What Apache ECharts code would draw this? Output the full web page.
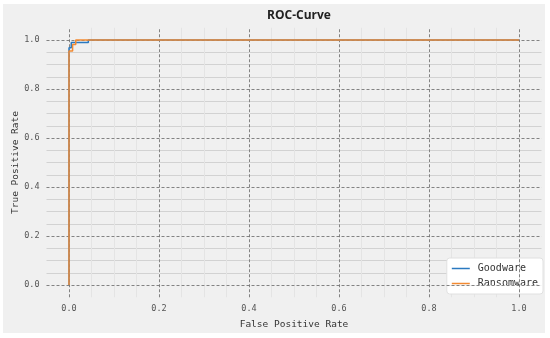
<!DOCTYPE html>
<html><head><meta charset="utf-8">
<script src="https://cdn.jsdelivr.net/npm/echarts@6/dist/echarts.min.js"></script>
<style>
html,body{margin:0;padding:0;background:#fff;}
#bg{position:absolute;left:3px;top:4px;width:542px;height:329px;background:#f0f0f0;}
#chart{position:absolute;left:0;top:0;width:550px;height:338px;}
</style></head>
<body>
<div id="bg"></div>
<div id="chart"></div>
<script>
const goodwareFPR = [0, 0, 0.005, 0.005, 0.043, 0.043, 1];
const goodwareTPR = [0, 0.968, 0.968, 0.99, 0.99, 1.0, 1.0];
const ransomFPR = [0, 0, 0.008, 0.008, 0.015, 0.015, 1];
const ransomTPR = [0, 0.955, 0.955, 0.982, 0.982, 1.0, 1.0];
const majorTicks = [0, 0.2, 0.4, 0.6, 0.8, 1.0];

const zip = (a, b) => a.map((v, i) => [v, b[i]]);
const majorLines = [];
majorTicks.forEach(v => { majorLines.push({xAxis: v}); majorLines.push({yAxis: v}); });

const mono = 'DejaVu Sans Mono';
const labelFmt = v => {
  const r = Math.round(v * 100) / 100;
  return majorTicks.some(t => Math.abs(t - r) < 1e-6) ? r.toFixed(1) : '';
};
function makeAxis(extra, minorColor) {
  return Object.assign({
    type: 'value', min: -0.05, max: 1.05, interval: 0.05,
    axisLine: {show: false}, axisTick: {show: false},
    splitLine: {show: true, showMinLine: false, showMaxLine: false,
      lineStyle: {color: minorColor, width: 1}},
    nameLocation: 'middle', nameMoveOverlap: false,
    nameTextStyle: {color: '#333', fontFamily: mono, fontSize: 9.5}
  }, extra);
}

const chart = echarts.init(document.getElementById('chart'));
chart.setOption({
  backgroundColor: 'transparent',
  animation: false,
  title: {
    text: 'ROC-Curve', left: 294, top: 5, textAlign: 'center',
    textStyle: {fontFamily: 'Open Sans', fontWeight: 'bold', fontSize: 12, color: '#222'}
  },
  grid: {left: 46.5, right: 8.5, top: 27.75, bottom: 40.75, containLabel: false, outerBoundsMode: 'none'},
  xAxis: makeAxis({
    name: 'False Positive Rate', nameGap: 22,
    axisLabel: {color: '#555', fontFamily: mono, fontSize: 8.5, margin: 7, formatter: labelFmt}
  }, '#e4e4e4'),
  yAxis: makeAxis({
    name: 'True Positive Rate', nameGap: 26,
    axisLabel: {color: '#555', fontFamily: mono, fontSize: 8.5, margin: 7, formatter: labelFmt}
  }, '#d2d2d2'),
  legend: {
    orient: 'vertical', right: 7, bottom: 44,
    data: ['Goodware', 'Ransomware'],
    icon: 'rect',
    itemWidth: 18, itemHeight: 1.5, itemGap: 2,
    backgroundColor: '#ffffff', borderColor: '#e0e0e0', borderWidth: 1, borderRadius: 3,
    padding: [4, 5, 4, 5],
    textStyle: {fontFamily: mono, fontSize: 10, lineHeight: 13, color: '#333', padding: [0, 0, 0, 3]}
  },
  series: [
    {
      type: 'line', data: [], silent: true, z: 1,
      markLine: {silent: true, symbol: 'none', animation: false, label: {show: false},
        lineStyle: {color: '#f0f0f0', type: 'solid', width: 1}, data: majorLines}
    },
    {
      type: 'line', data: [], silent: true, z: 2,
      markLine: {silent: true, symbol: 'none', animation: false, label: {show: false},
        lineStyle: {color: '#666', type: [3, 2], width: 0.8}, data: majorLines}
    },
    {
      name: 'Goodware', type: 'line', data: zip(goodwareFPR, goodwareTPR),
      showSymbol: false, z: 5, color: '#2a79c0',
      lineStyle: {width: 1.5, color: '#2a79c0'}
    },
    {
      name: 'Ransomware', type: 'line', data: zip(ransomFPR, ransomTPR),
      showSymbol: false, z: 6, color: '#f28a32',
      lineStyle: {width: 1.5, color: '#f28a32'}
    }
  ]
});
</script>
</body></html>
